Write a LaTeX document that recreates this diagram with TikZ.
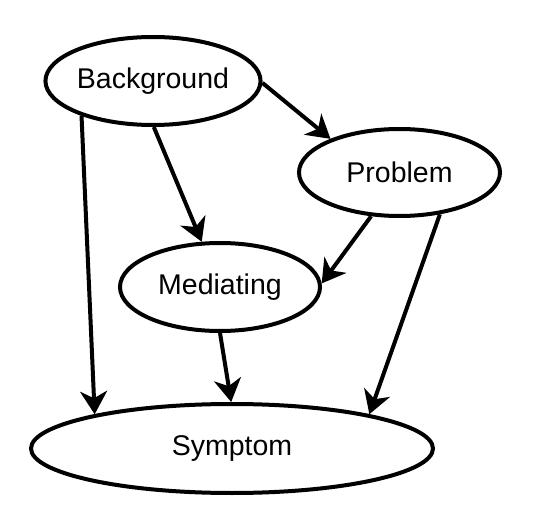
\documentclass[tikz,border=0pt]{standalone}
\usepackage{fontspec}
\setmainfont{Liberation Sans}
\usetikzlibrary{shapes.geometric,arrows.meta}
\begin{document}
\begin{tikzpicture}[x=1pt,y=-1pt,
  var/.style={ellipse,draw,line width=4pt,inner sep=0pt,font=\fontsize{28.5}{32}\selectfont},
  edge/.style={line width=4pt,-{Stealth[length=23pt,width=27pt,inset=7pt]}}]
\useasboundingbox (0,0) rectangle (536,516);
\node[var,minimum width=199pt,minimum height=88pt] (bg) at (153,81) {Background};
\node[var,minimum width=201pt,minimum height=87pt] (pb) at (399.5,172.5) {Problem};
\node[var,minimum width=200pt,minimum height=88pt] (md) at (220,287) {Mediating};
\node[var,minimum width=402pt,minimum height=89pt] (sy) at (232,448.5) {Symptom};
\draw[edge] (bg.-1) -- (pb.154);
\draw[edge] (bg.-89) -- (md.112);
\draw[edge] (bg.-154) -- (sy.166);
\draw[edge] (pb.-123) -- (md.2);
\draw[edge] (pb.-46) -- (sy.14);
\draw[edge] (md.-90) -- (sy.91);
\end{tikzpicture}
\end{document}
